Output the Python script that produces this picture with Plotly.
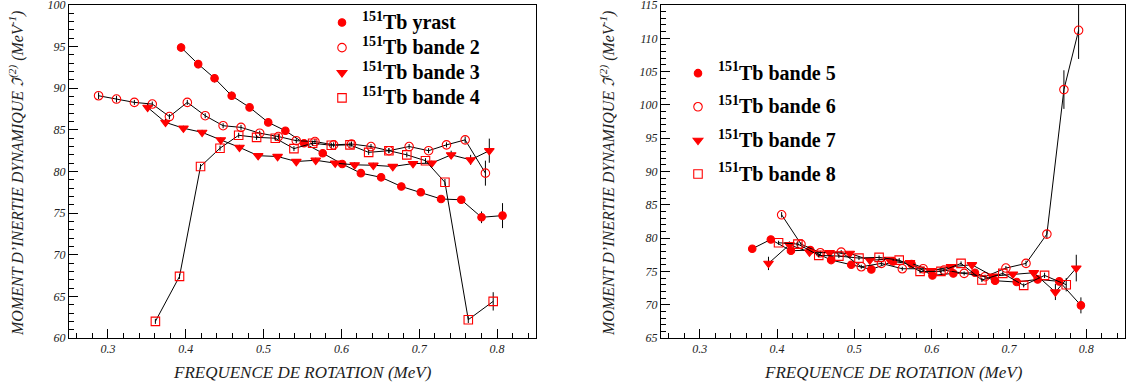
import plotly.graph_objects as go

# ---------------- Left panel data ----------------
yrast_x = [0.394, 0.416, 0.437, 0.459, 0.482, 0.506, 0.528, 0.552, 0.576, 0.601, 0.625, 0.651, 0.677, 0.702, 0.728, 0.754, 0.780, 0.807]
yrast_y = [94.9, 92.9, 91.2, 89.1, 87.7, 85.9, 84.9, 83.4, 82.2, 80.9, 79.8, 79.3, 78.2, 77.5, 76.7, 76.6, 74.5, 74.7]
yrast_e = [0.5, 0.5, 0.5, 0.5, 0.4, 0.3, 0.3, 0.3, 0.3, 0.3, 0.3, 0.3, 0.3, 0.3, 0.3, 0.3, 0.7, 1.5]

b2_x = [0.288, 0.311, 0.334, 0.357, 0.379, 0.402, 0.425, 0.448, 0.471, 0.495, 0.519, 0.542, 0.566, 0.590, 0.613, 0.638, 0.661, 0.687, 0.712, 0.735, 0.759, 0.785]
b2_y = [89.1, 88.7, 88.3, 88.1, 86.6, 88.3, 86.7, 85.5, 85.3, 84.6, 84.2, 83.7, 83.6, 83.2, 83.3, 83.0, 82.5, 83.0, 82.5, 83.2, 83.8, 79.8]
b2_e = [0.4, 0.4, 0.3, 0.3, 0.3, 0.3, 0.3, 0.3, 0.3, 0.3, 0.3, 0.3, 0.3, 0.3, 0.3, 0.3, 0.3, 0.3, 0.3, 0.3, 0.4, 1.5]

b3_x = [0.351, 0.374, 0.397, 0.421, 0.445, 0.469, 0.493, 0.518, 0.542, 0.567, 0.592, 0.617, 0.641, 0.666, 0.692, 0.716, 0.741, 0.766, 0.790]
b3_y = [87.7, 85.9, 85.2, 84.7, 83.8, 82.9, 81.9, 81.8, 81.2, 81.35, 81.0, 80.8, 80.75, 80.6, 80.95, 81.0, 82.0, 81.4, 82.5]
b3_e = [0.5, 0.4, 0.3, 0.3, 0.3, 0.3, 0.3, 0.3, 0.3, 0.3, 0.3, 0.3, 0.3, 0.3, 0.3, 0.3, 0.5, 0.6, 1.45]

b4_x = [0.361, 0.392, 0.419, 0.444, 0.468, 0.491, 0.515, 0.539, 0.563, 0.587, 0.611, 0.635, 0.661, 0.684, 0.708, 0.733, 0.763, 0.795]
b4_y = [62.0, 67.4, 80.6, 82.8, 84.35, 84.1, 84.0, 82.75, 83.4, 83.15, 83.2, 82.3, 82.5, 82.0, 81.3, 78.7, 62.2, 64.4]
b4_e = [0.3, 0.3, 0.3, 0.3, 0.3, 0.3, 0.3, 0.3, 0.3, 0.3, 0.3, 0.3, 0.3, 0.3, 0.3, 0.4, 0.4, 1.1]

# ---------------- Right panel data ----------------
b5_x = [0.368, 0.392, 0.418, 0.443, 0.470, 0.496, 0.522, 0.550, 0.574, 0.601, 0.628, 0.656, 0.682, 0.710, 0.737, 0.765, 0.793]
b5_y = [78.4, 79.8, 78.1, 78.2, 76.7, 76.0, 75.3, 76.5, 76.1, 74.4, 74.7, 74.8, 73.6, 73.4, 73.8, 73.5, 69.9]
b5_e = [0.3, 0.3, 0.3, 0.3, 0.3, 0.3, 0.3, 0.3, 0.3, 0.3, 0.3, 0.3, 0.3, 0.3, 0.4, 0.6, 1.2]

b6_x = [0.406, 0.431, 0.456, 0.483, 0.509, 0.535, 0.562, 0.589, 0.616, 0.642, 0.669, 0.696, 0.722, 0.749, 0.771, 0.790]
b6_y = [83.5, 79.1, 77.8, 77.9, 75.7, 76.2, 75.4, 75.4, 75.2, 74.7, 74.2, 75.5, 76.2, 80.6, 102.3, 111.2]
b6_e = [0.4, 0.3, 0.3, 0.3, 0.3, 0.3, 0.3, 0.3, 0.3, 0.3, 0.3, 0.3, 0.4, 0.6, 2.9, 4.3]

b7_x = [0.389, 0.416, 0.442, 0.468, 0.494, 0.520, 0.545, 0.572, 0.599, 0.625, 0.652, 0.679, 0.705, 0.732, 0.760, 0.787]
b7_y = [76.2, 79.0, 77.9, 77.8, 77.7, 76.7, 76.8, 76.3, 75.1, 75.7, 76.0, 74.3, 74.6, 74.8, 71.9, 75.5]
b7_e = [1.0, 0.5, 0.3, 0.3, 0.3, 0.3, 0.3, 0.3, 0.3, 0.3, 0.4, 0.3, 0.3, 0.4, 1.2, 2.0]

b8_x = [0.402, 0.427, 0.454, 0.480, 0.506, 0.532, 0.558, 0.585, 0.612, 0.638, 0.665, 0.692, 0.719, 0.746, 0.774]
b8_y = [79.3, 79.1, 77.4, 77.3, 77.0, 77.1, 76.7, 75.0, 75.0, 76.2, 73.7, 74.7, 72.9, 74.4, 73.0]
b8_e = [0.3, 0.3, 0.3, 0.3, 0.3, 0.3, 0.3, 0.3, 0.3, 0.3, 0.3, 0.3, 0.3, 0.4, 1.0]

left_names = ["yrast", "bande 2", "bande 3", "bande 4"]
right_names = ["bande 5", "bande 6", "bande 7", "bande 8"]

RED = "#ff0000"
SERIF = "Liberation Serif, Times New Roman, serif"

fig = go.Figure()

SIZES = {"circle": 7.5, "circle-open": 8.5, "triangle-down": 8.5, "square-open": 8.5}


def add_series(x, y, e, name, symbol, xa, ya, legend, group):
    marker = dict(symbol=symbol, size=SIZES[symbol], color=RED,
                  line=dict(color=RED, width=1.1))
    fig.add_trace(go.Scatter(
        x=x, y=y, mode="lines+markers", name=name, showlegend=False,
        xaxis=xa, yaxis=ya,
        line=dict(color="black", width=1),
        marker=marker,
        error_y=dict(type="data", array=e, visible=True, color="black",
                     thickness=1, width=0),
    ))
    # legend entry (marker only, as in the original)
    fig.add_trace(go.Scatter(
        x=[None], y=[None], mode="markers", xaxis=xa, yaxis=ya,
        name='<span style="font-size:20px"><sup>151</sup>Tb ' + name + "</span>",
        legend=legend, legendgroup=group, showlegend=True, marker=marker,
    ))


add_series(yrast_x, yrast_y, yrast_e, left_names[0], "circle", "x", "y", "legend", "a")
add_series(b2_x, b2_y, b2_e, left_names[1], "circle-open", "x", "y", "legend", "a")
add_series(b3_x, b3_y, b3_e, left_names[2], "triangle-down", "x", "y", "legend", "a")
add_series(b4_x, b4_y, b4_e, left_names[3], "square-open", "x", "y", "legend", "a")

add_series(b5_x, b5_y, b5_e, right_names[0], "circle", "x2", "y2", "legend2", "e")
add_series(b6_x, b6_y, b6_e, right_names[1], "circle-open", "x2", "y2", "legend2", "f")
add_series(b7_x, b7_y, b7_e, right_names[2], "triangle-down", "x2", "y2", "legend2", "g")
add_series(b8_x, b8_y, b8_e, right_names[3], "square-open", "x2", "y2", "legend2", "h")

tickfont = dict(family=SERIF, size=12, style="italic", color="#222")

xcommon = dict(range=[0.25, 0.85], dtick=0.1, tick0=0.3, ticks="inside", ticklen=9,
               tickcolor="black", tickwidth=1, showline=True, linecolor="black",
               linewidth=1, mirror=True, showgrid=False, zeroline=False,
               tickfont=tickfont, automargin=False, ticklabeloverflow="allow",
               minor=dict(dtick=0.02, ticks="inside", ticklen=5, tickcolor="black", showgrid=False))
ycommon = dict(dtick=5, ticks="inside", ticklen=9, tickcolor="black", tickwidth=1,
               showline=True, linecolor="black", linewidth=1, mirror=True,
               showgrid=False, zeroline=False, tickfont=tickfont, automargin=False,
               ticklabeloverflow="allow",
               minor=dict(dtick=1, ticks="inside", ticklen=5, tickcolor="black", showgrid=False))

W, H = 1128, 387
legfont = dict(family=SERIF, size=17, weight="bold", color="black")
fig.update_layout(
    width=W, height=H,
    margin=dict(l=0, r=0, t=5, b=49),
    paper_bgcolor="white", plot_bgcolor="white",
    xaxis=dict(domain=[69 / W, 536 / W], anchor="y", **xcommon),
    yaxis=dict(domain=[0, 1], anchor="x", range=[60, 100], tick0=60, **ycommon),
    xaxis2=dict(domain=[661 / W, 1125 / W], anchor="y2", **xcommon),
    yaxis2=dict(domain=[0, 1], anchor="x2", range=[65, 115], tick0=65, **ycommon),
    legend=dict(x=322 / W, y=1.0, xanchor="left", yanchor="top",
                bgcolor="rgba(0,0,0,0)", tracegroupgap=0, font=legfont),
    legend2=dict(x=678 / W, y=0.848, xanchor="left", yanchor="top",
                 bgcolor="rgba(0,0,0,0)", tracegroupgap=8.5, font=legfont),
    showlegend=True,
)

ytitle = "MOMENT D\u2019INERTIE DYNAMIQUE \u2111<sup>(2)</sup> (MeV<sup>-1</sup>)"
xtitle = "FREQUENCE DE ROTATION (MeV)"
yfont = dict(family=SERIF, size=16, style="italic", color="#222")
xfont = dict(family=SERIF, size=17, style="italic", color="#222")
for xpos in [16, 607]:
    fig.add_annotation(text=ytitle, xref="paper", yref="paper", x=xpos / W,
                       y=(338 - 174) / 333,
                       xanchor="center", yanchor="middle", textangle=-90,
                       showarrow=False, font=yfont)
for xc in [(69 + 536) / 2, (661 + 1125) / 2]:
    fig.add_annotation(text=xtitle, xref="paper", yref="paper", x=xc / W,
                       y=-(372 - 338) / 333, xanchor="center", yanchor="middle",
                       showarrow=False, font=xfont)

fig.write_html("out.html", config={"displayModeBar": False},
               post_script="document.body.style.margin='0';document.body.style.overflow='hidden';")
